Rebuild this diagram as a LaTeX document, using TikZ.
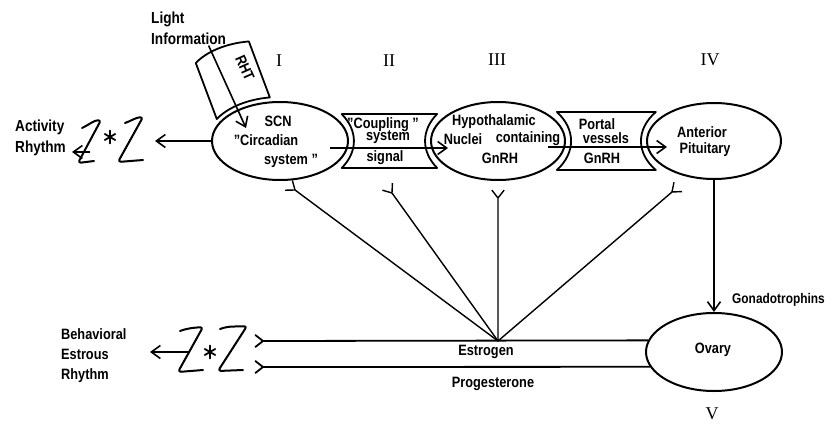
\documentclass[tikz,border=0pt]{standalone}
\usepackage{fontspec}
\setmainfont{Liberation Sans}[FakeStretch=0.85]
\newfontfamily\numfont{Liberation Serif}
\usetikzlibrary{shapes.geometric,arrows.meta,calc}
\newcommand\myfork[3][]{%
  \draw[fb,#1] (#2) -- (#3)
    (#3) -- ($(#3)!-10pt!38:(#2)$)
    (#3) -- ($(#3)!-10pt!-38:(#2)$);}
\newcommand\myast[1]{%
  \draw[line width=1.8pt, line cap=round] ($(#1)+(0,6.5)$) -- ($(#1)+(0,-6.5)$)
    ($(#1)+(30:6)$) -- ($(#1)+(210:6)$)
    ($(#1)+(150:6)$) -- ($(#1)+(-30:6)$);}
\begin{document}
\begin{tikzpicture}[x=1pt,y=1pt,
  organ/.style={draw, ellipse, line width=2pt, inner sep=0pt},
  lbl/.style={inner sep=0pt, font=\bfseries\fontsize{15}{16}\selectfont},
  biglbl/.style={inner sep=0pt, align=left, font=\bfseries\fontsize{16}{21}\selectfont},
  roman/.style={inner sep=0pt, font=\numfont\fontsize{18}{18}\selectfont},
  conn/.style={line width=1.6pt, -{Straight Barb[length=9pt,width=13pt]}},
  fb/.style={line width=1.4pt, line join=round},
  band/.style={draw, line width=1.8pt, line join=round},
  squig/.style={line width=2pt, rounded corners=3pt, line cap=round, line join=round},
]
\useasboundingbox (0,0) rectangle (830,-423);

% organs
\node[organ, minimum width=136pt, minimum height=78pt] (scn) at (280,-141) {};
\node[organ, minimum width=134pt, minimum height=78pt] (hyp) at (498,-141) {};
\node[organ, minimum width=134pt, minimum height=76pt] (ant) at (714,-141) {};
\node[organ, minimum width=136pt, minimum height=78pt] (ova) at (714,-352) {};

% bands
\draw[band] (341.7,-114) -- (437.1,-114)
  arc[start angle=146.6,end angle=213.4,x radius=73,y radius=49]
  -- (341.7,-168)
  arc[start angle=-33.4,end angle=33.4,x radius=74,y radius=49] -- cycle;
\draw[band] (556.9,-112) -- (655.8,-112)
  arc[start angle=142.8,end angle=217.2,x radius=73,y radius=48]
  -- (556.9,-170)
  arc[start angle=-36.3,end angle=36.3,x radius=73,y radius=49] -- cycle;
\draw[band] (269.84,-97.43)
  arc[start angle=98,end angle=150,x radius=73,y radius=44]
  -- ++(-21,56)
  arc[start angle=150,end angle=98,x radius=73,y radius=44] -- cycle;
\node[lbl, rotate=-66] (rht) at (245,-68) {RHT};

% texts in organs and bands
\node[lbl] (tscn) at (278,-121) {SCN};
\node[lbl] (tcirc) at (266,-140) {"Circadian};
\node[lbl] (tsys) at (291,-161) {system "};
\node[lbl] (tcoup) at (383,-125) {"Coupling "};
\node[lbl] (tcsys) at (388,-137) {system};
\node[lbl] (tsig) at (385,-158) {signal};
\node[lbl] (thyp) at (494,-122) {Hypothalamic};
\node[lbl] (tnuc) at (463,-139) {Nuclei};
\node[lbl] (tcont) at (528,-139) {containing};
\node[lbl] (tgn1) at (500,-158) {GnRH};
\node[lbl] (tport) at (597,-124) {Portal};
\node[lbl] (tves) at (606,-138) {vessels};
\node[lbl] (tgn2) at (602,-158) {GnRH};
\node[lbl] (tant) at (702,-132) {Anterior};
\node[lbl] (tpit) at (705,-150) {Pituitary};
\node[lbl] (tova) at (713,-350) {Ovary};
\node[lbl] (test) at (486,-352) {Estrogen};
\node[lbl] (tprog) at (493,-384) {Progesterone};
\node[lbl, anchor=west, font=\bfseries\fontsize{14}{16}\selectfont] (tgon) at (732,-300) {Gonadotrophins};

% roman numerals
\node[roman] (r1) at (279,-61) {I};
\node[roman] (r2) at (389,-61) {II};
\node[roman] (r3) at (497,-60) {III};
\node[roman] (r4) at (710,-60) {IV};
\node[roman] (r5) at (712,-414) {V};

% light information
\node[biglbl, anchor=west] (light) at (151,-28) {Light\\Information};
\coordinate (lightend) at (246,-128);
\draw[conn] ([xshift=20pt,yshift=-1pt]light.south) -- (lightend);

% arrows through bands
\coordinate (cpS) at (330,-148);
\coordinate (cpE) at (448,-148);
\draw[conn] (cpS) -- (cpE);
\coordinate (ptS) at (548,-147);
\coordinate (ptE) at (667,-147);
\draw[conn] (ptS) -- (ptE);

% gonadotrophins
\draw[conn] (ant.south) -- (ova.north);

% activity rhythm
\node[biglbl, anchor=west] (activity) at (15,-138) {Activity\\Rhythm};
\coordinate (actend) at (155,-141);
\draw[conn] (scn.west) -- (actend);
\draw[squig] (82,-128) to[out=25,in=185] (101,-120) -- (78,-163) -- (94,-161);
\draw[squig] (125,-123) to[out=20,in=185] (143,-117) -- (118,-162) -- (143,-160);
\coordinate (ast1) at (110,-137);
\myast{ast1}
\coordinate (actz) at (90,-152);
\coordinate (acttip) at (72,-152);
\draw[conn] (actz) -- (acttip);

% behavioral estrous rhythm
\node[inner sep=0pt, align=left, anchor=west, font=\bfseries\fontsize{15}{20}\selectfont] (behav) at (61,-356) {Behavioral\\Estrous\\Rhythm};
\draw[squig] (180,-331) to[out=20,in=185] (203,-327) -- (178,-372) -- (203,-370);
\draw[squig] (220,-329) to[out=20,in=185] (247,-326) -- (218,-371) -- (243,-370);
\coordinate (ast2) at (210,-352);
\myast{ast2}
\coordinate (behz) at (190,-352);
\coordinate (behtip) at (150,-352);
\draw[conn] (behz) -- (behtip);

% steroid lines
\coordinate (estL) at (263,-341);
\coordinate (proL) at (263,-367);
\myfork[line width=1.8pt]{ova.170.4}{estL}
\myfork[line width=1.8pt]{ova.193.4}{proL}

% feedback from hub
\coordinate (hub) at (498,-341);
\coordinate (fb1) at (295,-190);
\coordinate (fb2) at (392,-193);
\coordinate (fb3) at (498,-198);
\coordinate (fb4) at (672,-192);
\myfork{hub}{fb1}
\myfork{hub}{fb2}
\myfork{hub}{fb3}
\myfork{hub}{fb4}
\end{tikzpicture}
\end{document}
